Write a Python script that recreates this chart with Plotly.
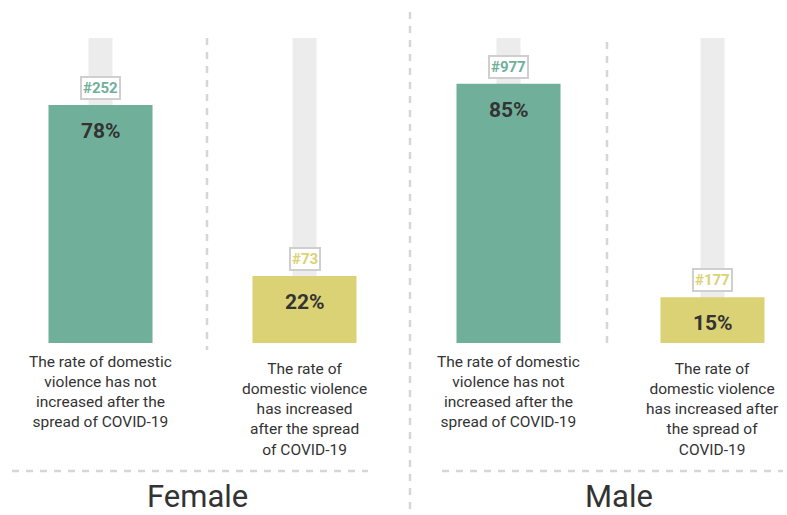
import plotly.graph_objects as go

# Survey answers, split by gender
groups = ["Female", "Male"]
answers = [
    "The rate of domestic<br>violence has not<br>increased after the<br>spread of COVID-19",
    "The rate of<br>domestic violence<br>has increased<br>after the spread<br>of COVID-19",
    "The rate of domestic<br>violence has not<br>increased after the<br>spread of COVID-19",
    "The rate of<br>domestic violence<br>has increased after<br>the spread of<br>COVID-19",
]
shares = [78, 22, 85, 15]          # percent of respondents
counts = [252, 73, 977, 177]       # number of respondents
kinds = ["not", "inc", "not", "inc"]

GREEN = "#70b09b"
YELLOW = "#dbd275"
colors = [GREEN if k == "not" else YELLOW for k in kinds]

W, H = 787, 515
FONT = "Roboto, 'Noto Sans', sans-serif"
xpos = list(range(len(shares)))

fig = go.Figure()

# light track behind every bar (full 100 %)
fig.add_trace(go.Bar(
    x=xpos, y=[100] * len(xpos), width=0.118,
    marker=dict(color="#ececec", line=dict(width=0)),
    hoverinfo="skip", showlegend=False,
))

# the answer shares
fig.add_trace(go.Bar(
    x=xpos, y=shares, width=0.51,
    marker=dict(color=colors, line=dict(width=0)),
    hovertemplate="%{y}%<extra></extra>",
    showlegend=False,
))

annotations = []
for x, s, n, c in zip(xpos, shares, counts, colors):
    # percentage near the top of the bar
    annotations.append(dict(
        x=x, y=s, xref="x", yref="y", yshift=-26,
        text=f"<b>{s}%</b>", showarrow=False,
        font=dict(family=FONT, size=21, color="#333333"),
    ))
    # respondent count in a boxed tag above the bar
    annotations.append(dict(
        x=x, y=s, xref="x", yref="y", yshift=17,
        text=f"<b>#{n}</b>", showarrow=False,
        font=dict(family=FONT, size=15, color=c),
        bgcolor="white", bordercolor="#cfcfcf", borderwidth=2, borderpad=1,
    ))

# answer captions below the bars
caption_top = [351, 358, 351, 358]
for x, t, py in zip(xpos, answers, caption_top):
    annotations.append(dict(
        x=x, xref="x", y=1 - py / H, yref="paper", yanchor="top",
        text=t, showarrow=False, align="center",
        font=dict(family=FONT, size=15.5, color="#333333"),
    ))

# group titles
for g, px in zip(groups, [197, 619]):
    annotations.append(dict(
        x=px / W, xref="paper", xanchor="center",
        y=1 - 496 / H, yref="paper", yanchor="middle",
        text=g, showarrow=False,
        font=dict(family=FONT, size=31, color="#333333"),
    ))

line_style = dict(color="#d6d6d6", width=2.5, dash="7px,7px")
shapes = [
    # divider inside each group
    dict(type="line", xref="paper", yref="paper",
         x0=207 / W, x1=207 / W, y0=1 - 38 / H, y1=1 - 350 / H, line=line_style),
    dict(type="line", xref="paper", yref="paper",
         x0=607 / W, x1=607 / W, y0=1 - 42 / H, y1=1 - 350 / H, line=line_style),
    # divider between the groups
    dict(type="line", xref="paper", yref="paper",
         x0=410 / W, x1=410 / W, y0=1 - 12 / H, y1=0, line=line_style),
    # group underlines
    dict(type="line", xref="paper", yref="paper",
         x0=12 / W, x1=368 / W, y0=1 - 471 / H, y1=1 - 471 / H, line=line_style),
    dict(type="line", xref="paper", yref="paper",
         x0=442 / W, x1=783 / W, y0=1 - 471 / H, y1=1 - 471 / H, line=line_style),
]

# axis ranges: bar centres 204 px apart, first at 100.5 px; 0 % at 343 px, 100 % at 38 px
step = 204.0
x0 = -100.5 / step
ppu = 3.05
fig.update_layout(
    width=W, height=H,
    margin=dict(l=0, r=0, t=0, b=0),
    paper_bgcolor="white", plot_bgcolor="white",
    barmode="overlay",
    xaxis=dict(range=[x0, x0 + W / step], visible=False, fixedrange=True),
    yaxis=dict(range=[-(H - 343) / ppu, 343 / ppu], visible=False, fixedrange=True),
    annotations=annotations, shapes=shapes,
)

fig.write_html("out.html")
